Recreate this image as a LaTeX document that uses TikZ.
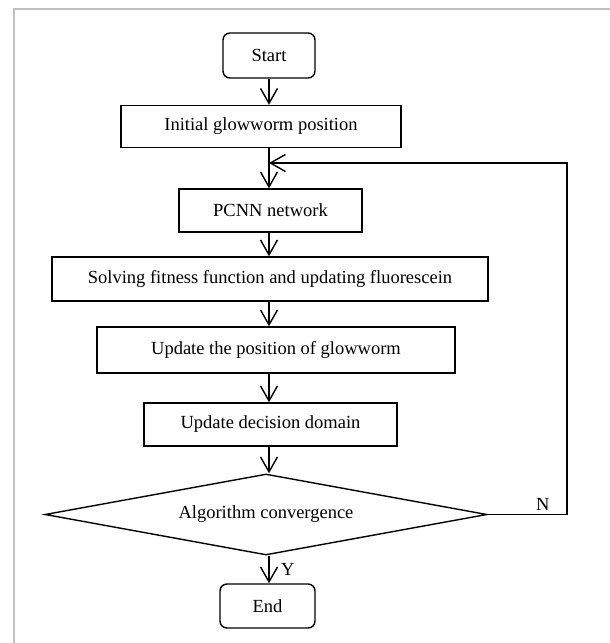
\documentclass[tikz,border=0pt]{standalone}
\usepackage{fontspec}
\setmainfont{Liberation Serif}
\usetikzlibrary{shapes.geometric}
\usetikzlibrary{arrows.meta}
\usetikzlibrary{positioning}

\tikzset{
	stepbox/.style={draw, line width=1.4pt, inner sep=0pt, minimum height=43pt},
	endbox/.style={stepbox, rounded corners=7pt},
	flow/.style={line width=1.4pt, -{Straight Barb[length=15pt,width=17pt,line width=1.4pt]}},
}

\begin{document}
\begin{tikzpicture}[x=1pt, y=-1pt, font=\fontsize{18.5}{21}\selectfont]
	\useasboundingbox (0,0) rectangle (610,643);
	\draw[black!25, line width=1.5pt] (14,643) -- (14,9) -- (610,9);
	\coordinate (spine) at (269,0);
	\node[endbox, minimum width=92pt, minimum height=45pt] (start) at (269,55.5) {Start};
	\node[stepbox, minimum width=280pt, minimum height=42pt] (init) at (261,126.5) {Initial glowworm position};
	\node[stepbox, minimum width=183pt] (pcnn) at (270.5,210.5) {PCNN network};
	\node[stepbox, minimum width=436pt, minimum height=44pt] (fit) at (270,279) {Solving fitness function and updating fluorescein};
	\node[stepbox, minimum width=358pt, minimum height=46pt] (pos) at (276,350) {Update the position of glowworm};
	\node[stepbox, minimum width=253pt] (dom) at (270.5,424.5) {Update decision domain};
	\node[diamond, draw, line width=1.4pt, inner sep=0pt, aspect=5.5, minimum width=442pt, minimum height=81pt] (conv) at (266,514.5) {Algorithm convergence};
	\node[endbox, minimum width=95pt, minimum height=44pt] (end) at (267.5,606) {End};
	\coordinate (back) at (567,163);
	\draw[flow] (spine |- start.south) -- (spine |- init.north);
	\draw[flow] (spine |- init.south) -- (spine |- pcnn.north);
	\draw[flow] (spine |- pcnn.south) -- (spine |- fit.north);
	\draw[flow] (spine |- fit.south) -- (spine |- pos.north);
	\draw[flow] (spine |- pos.south) -- (spine |- dom.north);
	\draw[flow] (spine |- dom.south) -- (spine |- conv.north);
	\draw[flow] (spine |- conv.south) -- (spine |- end.north) node[midway, right=8pt] (yes) {Y};
	\draw[flow] (conv.east) -| (back) -- (spine |- back);
	\node[above left=0pt and 14pt] (no) at (back |- conv.east) {N};
\end{tikzpicture}
\end{document}
